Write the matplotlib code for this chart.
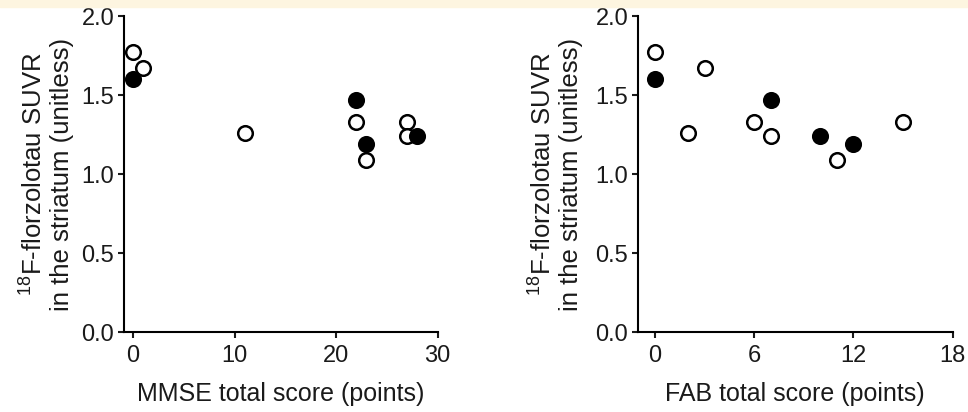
import matplotlib
matplotlib.use("Agg")
import matplotlib.pyplot as plt
from matplotlib.patches import Rectangle

plt.rcParams['font.family'] = ['Liberation Sans', 'DejaVu Sans']
plt.rcParams['mathtext.fontset'] = 'custom'
plt.rcParams['mathtext.rm'] = 'Liberation Sans'

# SUVR values (same patients in both panels)
suvr_open = [1.77, 1.67, 1.26, 1.33, 1.09, 1.33, 1.24]
suvr_filled = [1.60, 1.47, 1.19, 1.24]

mmse_open = [0, 1, 11, 22, 23, 27, 27]
mmse_filled = [0, 22, 23, 28]

fab_open = [0, 3, 2, 6, 11, 15, 7]
fab_filled = [0, 7, 12, 10]

ylabel = '$^{18}$F-florzolotau SUVR\nin the striatum (unitless)'

fig = plt.figure(figsize=(9.68, 4.12), dpi=100)
fig.patches.append(Rectangle((0, 0.983), 1, 0.017, transform=fig.transFigure,
                             color='#fdf5e0', zorder=0))

ax1 = fig.add_axes([0.128, 0.194, 0.324, 0.767])
ax2 = fig.add_axes([0.659, 0.194, 0.325, 0.767])

panels = [
    (ax1, mmse_open, mmse_filled, 'MMSE total score (points)', (-0.9, 30), [0, 10, 20, 30], 5),
    (ax2, fab_open, fab_filled, 'FAB total score (points)', (-1.03, 18), [0, 6, 12, 18], 9),
]

for ax, xo, xf, xlabel, xlim, xticks, ypad in panels:
    ax.plot(xo, suvr_open, 'o', ms=10.5, mfc='white', mec='black', mew=1.8,
            clip_on=False, zorder=3)
    ax.plot(xf, suvr_filled, 'o', ms=10.5, mfc='black', mec='black', mew=1.8,
            clip_on=False, zorder=4)
    ax.set_xlim(*xlim)
    ax.set_ylim(0, 2.0)
    ax.set_xticks(xticks)
    ax.set_yticks([0.0, 0.5, 1.0, 1.5, 2.0])
    ax.set_yticklabels(['0.0', '0.5', '1.0', '1.5', '2.0'])
    for s in ['top', 'right']:
        ax.spines[s].set_visible(False)
    for s in ['left', 'bottom']:
        ax.spines[s].set_linewidth(1.5)
    ax.tick_params(axis='both', direction='out', length=4, width=1.5, labelsize=17,
                   colors='#1a1a1a')
    ax.tick_params(axis='x', pad=5)
    ax.tick_params(axis='y', pad=3)
    ax.set_xlabel(xlabel, fontsize=18, labelpad=11, color='#1a1a1a')
    ax.set_ylabel(ylabel, fontsize=18.5, labelpad=ypad, color='#1a1a1a', linespacing=1.2)

fig.savefig('out.png', dpi=100)
